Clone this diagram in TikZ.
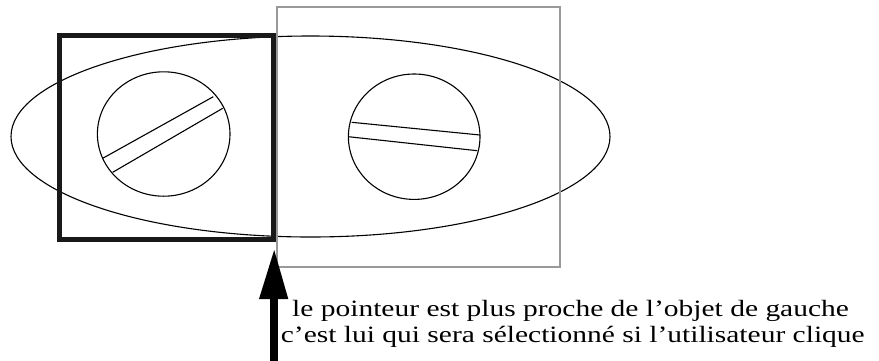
\documentclass[tikz,border=0pt]{standalone}
\usepackage{fontspec}
\usepackage{graphicx}
\setmainfont{Liberation Serif}
\newcommand{\widetext}[1]{\scalebox{1.26}[1]{#1}}
\begin{document}
\begin{tikzpicture}[x=1pt,y=-1pt,
  thin line/.style={draw=black,line width=1.1pt},
  selbox/.style={draw=black!90,line width=5pt},
  otherbox/.style={draw=black!40,line width=2pt},
  label text/.style={anchor=base west,inner sep=0pt,font=\fontsize{23.4}{26}\selectfont}]
\useasboundingbox (0,0) rectangle (879,360);
% big ellipse
\draw[thin line] (310.5,136.5) ellipse [x radius=299.5, y radius=100.5];
% grey square (right object)
\draw[otherbox] (276.7,6.7) rectangle (560,266.7);
% thick square (selected object)
\draw[selbox] (59.5,35) rectangle (273,239.5);
% left screw
\draw[thin line] (163.7,134) ellipse [x radius=66.3, y radius=62.2];
\draw[thin line] (102.7,158.3) -- (213.3,96.7);
\draw[thin line] (112.7,172.3) -- (222.7,108.3);
% right screw
\draw[thin line] (414.2,136.7) ellipse [x radius=65.8, y radius=62.7];
\draw[thin line] (351.7,122.3) -- (480,135);
\draw[thin line] (348.3,136.7) -- (477.3,150.7);
% pointer arrow
\coordinate (tail) at (274.2,362);
\coordinate (tip) at (274.2,250);
\fill[black] (tip) -- (288.3,299) -- (259,299) -- cycle;
\draw[black,line width=8pt] (tail) -- (274.2,298);
% text
\node[label text] (l1) at (292,316) {\widetext{le pointeur est plus proche de l’objet de gauche}};
\node[label text] (l2) at (280.7,342) {\widetext{c’est lui qui sera sélectionné si l’utilisateur clique}};
\end{tikzpicture}
\end{document}
